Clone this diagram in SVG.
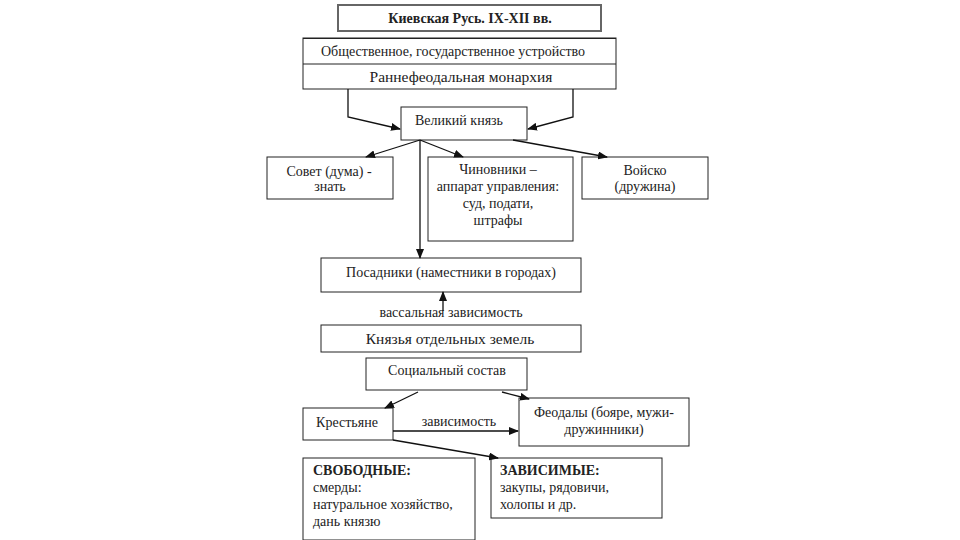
<svg xmlns="http://www.w3.org/2000/svg" width="960" height="540" viewBox="0 0 960 540">
<defs>
<marker id="ah" markerWidth="10" markerHeight="8" refX="9" refY="4" orient="auto" markerUnits="userSpaceOnUse">
<path d="M0,0 L10,4 L0,8 Z" fill="#111"/>
</marker>
<style>
.b{fill:#fff;stroke:#222;stroke-width:1}
.t{font-family:"Liberation Serif","Times New Roman",serif;font-size:14px;fill:#222;text-anchor:middle}
.l{text-anchor:start}
.big{font-size:15.5px}
.bold{font-weight:bold}
.c{fill:none;stroke:#111;stroke-width:1.3;marker-end:url(#ah)}
</style>
</defs>
<rect width="960" height="540" fill="#fff"/>
<g id="title"><rect x="338" y="5" width="263" height="26" fill="#fff" stroke="#666" stroke-width="2"/><text class="t bold" x="470" y="23" font-size="15">Киевская Русь. IX-XII вв.</text></g>
<g id="ustroistvo"><rect class="b" x="303" y="38" width="313" height="51" stroke="#999"/><line x1="303" y1="38.5" x2="616" y2="38.5" stroke="#222"/><line x1="303" y1="64" x2="616" y2="64" stroke="#222"/><text class="t" x="453" y="56" font-size="15.6">Общественное, государственное устройство</text><text class="t big" x="461" y="82">Раннефеодальная монархия</text></g>
<g id="knyaz"><rect class="b" x="401" y="107" width="126" height="33"/><text class="t" x="459" y="125" font-size="12.2">Великий князь</text></g>
<g id="sovet"><rect class="b" x="267" y="157" width="126" height="42"/><text class="t" x="329" y="176">Совет (дума) -</text><text class="t" x="330" y="191">знать</text></g>
<g id="chinovniki"><rect class="b" x="428" y="157" width="145" height="84"/><text class="t" x="498" y="174">Чиновники –</text><text class="t" x="498" y="191" font-size="15">аппарат управления:</text><text class="t" x="498" y="208">суд, подати,</text><text class="t" x="498" y="225">штрафы</text></g>
<g id="voisko"><rect class="b" x="582" y="157" width="126" height="42"/><text class="t" x="645" y="175">Войско</text><text class="t" x="645" y="191">(дружина)</text></g>
<g id="posadniki"><rect class="b" x="321" y="258" width="260" height="34"/><text class="t" x="451" y="277">Посадники (наместники в городах)</text></g>
<g id="knyazya"><rect class="b" x="321" y="325" width="260" height="27"/><text class="t big" x="450" y="344">Князья отдельных земель</text></g>
<g id="social"><rect class="b" x="366" y="358" width="161" height="32"/><text class="t" x="447" y="375">Социальный состав</text></g>
<g id="krestyane"><rect class="b" x="303" y="408" width="90" height="32"/><text class="t" x="347" y="427">Крестьяне</text></g>
<g id="feodaly"><rect class="b" x="519" y="398" width="170" height="48"/><text class="t" x="604" y="417">Феодалы (бояре, мужи-</text><text class="t" x="604" y="434">дружинники)</text></g>
<g id="svobodnye"><rect class="b" x="303" y="458" width="172" height="82"/><text class="t l bold" x="313" y="475" font-size="15">СВОБОДНЫЕ:</text><text class="t l" x="313" y="492" font-size="15">смерды:</text><text class="t l" x="313" y="509" font-size="15">натуральное хозяйство,</text><text class="t l" x="313" y="526" font-size="15">дань князю</text></g>
<g id="zavisimye"><rect class="b" x="491" y="458" width="171" height="60"/><text class="t l bold" x="500" y="475" font-size="15">ЗАВИСИМЫЕ:</text><text class="t l" x="500" y="492" font-size="15">закупы, рядовичи,</text><text class="t l" x="500" y="509" font-size="15">холопы и др.</text></g>
<g id="connectors">
<path class="c" d="M348,89 L348,117 L400,129"/>
<path class="c" d="M573,89 L573,117 L528,129"/>
<path class="c" d="M420,140 L366,157"/>
<path class="c" d="M420,140 L463,157"/>
<path class="c" d="M513,140 L607,157"/>
<path class="c" d="M420,140 L420,258"/>
<path class="c" d="M443,311 L443,292"/>
<text class="t" x="451" y="317">вассальная зависимость</text>
<path class="c" d="M418,392 L385,408"/>
<path class="c" d="M502,392 L529,399"/>
<path class="c" d="M393,431 L518,431"/>
<text class="t" x="459" y="426">зависимость</text>
<path class="c" d="M393,440 L498,458"/>
</g>
</svg>
